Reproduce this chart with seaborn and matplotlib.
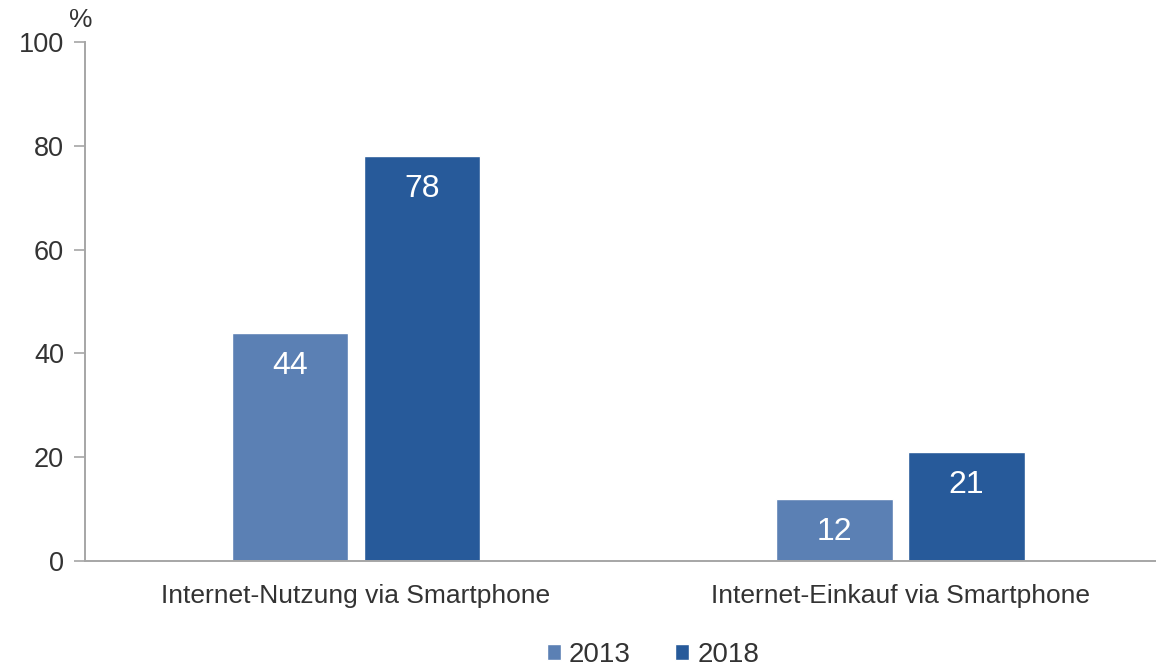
import seaborn as sns
import matplotlib.pyplot as plt
import pandas as pd

# --- data ---
categories = ['Internet-Nutzung via Smartphone', 'Internet-Einkauf via Smartphone']
years = ['2013', '2018']
values_2013 = [44, 12]
values_2018 = [78, 21]

df = pd.DataFrame({
    'Kategorie': categories * 2,
    'Jahr': [years[0]] * 2 + [years[1]] * 2,
    'Wert': values_2013 + values_2018,
})

sns.set_style("white")
plt.rcParams['font.family'] = ['Liberation Sans', 'DejaVu Sans']
text_col = '#333333'
axis_col = '#a6a6a6'

fig = plt.figure(figsize=(11.56, 6.69), dpi=100)
ax = fig.add_axes([85 / 1156, 1 - 561 / 669, 1 - 85 / 1156, (561 - 42) / 669])

sns.barplot(
    data=df, x='Kategorie', y='Wert', hue='Jahr',
    palette=['#5b80b4', '#275a9a'],
    width=0.485, gap=0.114, saturation=1, ax=ax,
)

# value labels inside the bars, near the top
for cont in ax.containers:
    for bar in cont:
        h = bar.get_height()
        ax.text(bar.get_x() + bar.get_width() / 2, h - 6.4, f'{h:.0f}',
                ha='center', va='center', color='white', fontsize=23)

ax.set_ylim(0, 100)
ax.set_xlim(-0.498, 1.47)
ax.set_yticks([0, 20, 40, 60, 80, 100])
ax.set_xlabel('')
ax.set_ylabel('')
ax.tick_params(axis='y', left=True, length=8, width=1.2, color=axis_col,
               labelsize=19.5, labelcolor=text_col, pad=7)
ax.tick_params(axis='x', bottom=False, labelsize=19, labelcolor=text_col, pad=13)

for side in ['top', 'right']:
    ax.spines[side].set_visible(False)
for side in ['left', 'bottom']:
    ax.spines[side].set_color(axis_col)
    ax.spines[side].set_linewidth(1.4)

ax.text(-0.004, 1.02, '%', transform=ax.transAxes, ha='center', va='bottom',
        fontsize=19, color=text_col)

ax.legend(title=None, frameon=False, loc='center', ncol=2,
          bbox_to_anchor=(653 / 1156, 1 - 655 / 669), bbox_transform=fig.transFigure,
          fontsize=20, handlelength=0.5, handleheight=0.5, handletextpad=0.3,
          columnspacing=1.6, labelcolor=text_col)

plt.savefig('out.png', dpi=100)
